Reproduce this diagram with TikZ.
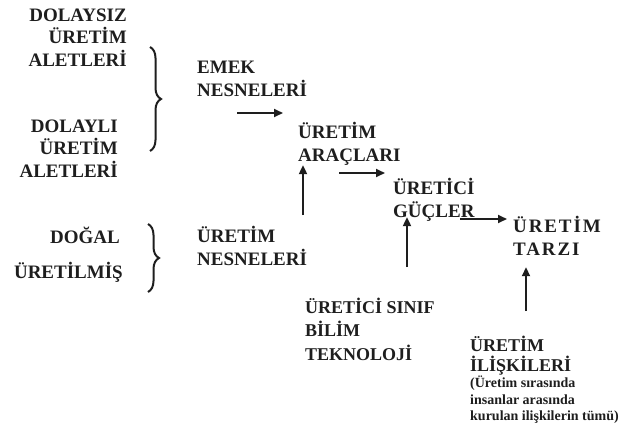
\documentclass[tikz,border=0pt]{standalone}
\usepackage{fontspec}
\setmainfont{Liberation Serif}
\usepackage{tikz}
\usetikzlibrary{arrows.meta,positioning,decorations.pathreplacing}
\definecolor{inkdark}{HTML}{1E1E1E}

\begin{document}
\begin{tikzpicture}[x=1pt, y=-1pt,
    term/.style={inner sep=0pt, text=inkdark, font=\bfseries\fontsize{19}{22.5}\selectfont},
    note/.style={inner sep=0pt, text=inkdark, align=left, font=\bfseries\fontsize{14}{16.5}\selectfont},
    flow/.style={-{Triangle[length=9pt,width=8pt]}, draw=inkdark, line width=1.8pt},
    curly/.style={draw=inkdark, line width=2pt, decorate, decoration={brace, amplitude=11pt}}]
  \useasboundingbox (0,0) rectangle (626,439);

  % left column (base = last line)
  \node[term, align=right, anchor=base east] (dolaysiz) at (127,66) {DOLAYSIZ\\ÜRETİM\\ALETLERİ};
  \node[term, align=right, anchor=base east] (dolayli) at (118,177) {DOLAYLI\\ÜRETİM\\ALETLERİ};
  \node[term, anchor=base east] (dogal) at (120,243) {DOĞAL};
  \node[term, anchor=base east] (uretilmis) at (123,278) {ÜRETİLMİŞ};

  % braces
  \coordinate (b1top) at (150,47);
  \coordinate (b1bot) at (150,151);
  \coordinate (b2top) at (148,224);
  \coordinate (b2bot) at (148,292);
  \draw[curly] (b1top) -- (b1bot);
  \draw[curly] (b2top) -- (b2bot);

  % middle and right
  \node[term, align=left, anchor=base west] (emek) at (197,96) {EMEK\\NESNELERİ};
  \node[term, align=left, anchor=base west] (nesne) at (197,265) {ÜRETİM\\NESNELERİ};
  \node[term, align=left, anchor=base west] (araclar) at (298,161) {ÜRETİM\\ARAÇLARI};
  \node[term, align=left, anchor=base west] (guc) at (393,217) {ÜRETİCİ\\GÜÇLER};
  \node[term, align=left, anchor=base west, font=\bfseries\fontsize{19}{22.5}\selectfont\addfontfeature{LetterSpace=10}] (tarz) at (513,255) {ÜRETİM\\TARZI};
  \node[term, align=left, anchor=base west, font=\bfseries\fontsize{18}{23.5}\selectfont] (sinif) at (305,360) {ÜRETİCİ SINIF\\BİLİM\\TEKNOLOJİ};
  \node[term, align=left, anchor=base west, font=\bfseries\fontsize{18}{19.5}\selectfont] (iliski) at (470,371) {ÜRETİM\\İLİŞKİLERİ};
  \node[note, anchor=north west] (aciklama) at (470,376) {(Üretim sırasında\\insanlar arasında\\kurulan ilişkilerin tümü)};

  % arrows
  \coordinate (a1) at (237,113);
  \coordinate (a2) at (339,173);
  \coordinate (a3) at (460,219);
  \coordinate (u1) at (303,215);
  \coordinate (u2) at (407,267);
  \coordinate (u3) at (526,311);
  \draw[flow] (a1) -- ([xshift=-15pt]a1 -| araclar.west);
  \draw[flow] (a2) -- ([xshift=-8pt]a2 -| guc.west);
  \draw[flow] (a3) -- ([xshift=-6pt]a3 -| tarz.west);
  \draw[flow] (u1) -- (u1 |- araclar.south);
  \draw[flow] (u2) -- ([yshift=4pt]u2 |- guc.south);
  \draw[flow] (u3) -- ([yshift=-12pt]u3 |- tarz.south);
\end{tikzpicture}
\end{document}
